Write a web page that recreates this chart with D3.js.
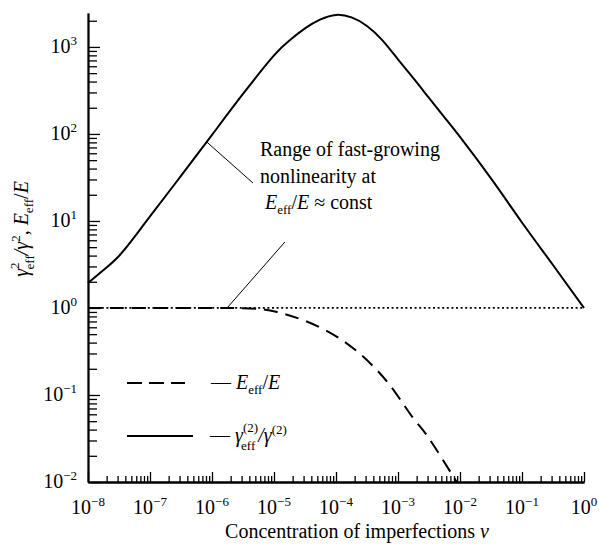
<!DOCTYPE html>
<html lang="en">
<head>
<meta charset="utf-8">
<title>Effective nonlinearity vs concentration</title>
<script src="https://cdn.jsdelivr.net/npm/d3@7"></script>
<style>
  body { margin: 0; background: #fff; }
  svg text { font-family: "Liberation Serif", "Times New Roman", Times, "Noto Serif", "DejaVu Serif", FreeSerif, serif; fill: #000; }
  .axis path { stroke: #000; stroke-width: 1.8px; }
  .axis line { stroke: #000; stroke-width: 1.3px; }
</style>
</head>
<body>
<script>
// exponents of the labelled decades
var xTickExps = [-8, -7, -6, -5, -4, -3, -2, -1, 0];
var yTickExps = [-2, -1, 0, 1, 2, 3];

// gamma_eff^(2)/gamma^(2) (solid), read every quarter/half decade
var nuGamma = [1e-8, 1.78e-8, 3.16e-8, 5.62e-8, 1e-7, 3.16e-7, 1e-6, 3.16e-6, 1e-5, 1.78e-5, 3.16e-5, 5.62e-5,
               1e-4, 1.78e-4, 3.16e-4, 5.62e-4, 1e-3, 1.78e-3, 3.16e-3, 5.62e-3, 1e-2, 3.16e-2, 0.1, 0.316, 1];
var gammaRatio = [1.94, 2.73, 3.96, 6.55, 11.3, 32.9, 97.4, 288, 798, 1190, 1633, 2070,
                  2333, 2183, 1742, 1188, 718, 434, 259, 155, 92.4, 30.8, 9.61, 3.12, 1];

// E_eff/E (dashed)
var nuE = [1e-8, 1e-7, 1e-6, 3e-6, 5.9e-6, 1.12e-5, 3.53e-5, 1.3e-4, 3.95e-4, 8.95e-4, 1.75e-3, 3.05e-3, 8.85e-3];
var eRatio = [1, 1, 1, 0.995, 0.97, 0.90, 0.69, 0.42, 0.215, 0.108, 0.0544, 0.0329, 0.01];

var w = 599, h = 547;
var FS = 20;
var svg = d3.select("body").append("svg").attr("width", w).attr("height", h);

var x = d3.scaleLog().domain([1e-8, 1]).range([88, 584]);
var y = d3.scaleLog().domain([1e-2, Math.pow(10, 3.39)]).range([482, 13]);

// minor ticks 2..9 in each decade
var xMinor = [], yMinor = [];
for (var e = -8; e < 0; e++) for (var k = 2; k < 10; k++) xMinor.push(k * Math.pow(10, e));
for (var e = -2; e < 4; e++) for (var k = 2; k < 10; k++) {
  var v = k * Math.pow(10, e);
  if (v <= y.domain()[1]) yMinor.push(v);
}
var xMajor = xTickExps.map(function(e) { return Math.pow(10, e); });
var yMajor = yTickExps.map(function(e) { return Math.pow(10, e); });

// axes with ticks pointing inside
svg.append("g").attr("class", "axis").attr("transform", "translate(0,482)")
   .call(d3.axisTop(x).tickValues(xMinor).tickSize(6).tickSizeOuter(0).tickFormat(""));
svg.append("g").attr("class", "axis").attr("transform", "translate(0,482)")
   .call(d3.axisTop(x).tickValues(xMajor).tickSize(10).tickSizeOuter(0).tickFormat(""));
svg.append("g").attr("class", "axis").attr("transform", "translate(88,0)")
   .call(d3.axisRight(y).tickValues(yMinor).tickSize(9).tickSizeOuter(0).tickFormat(""));
svg.append("g").attr("class", "axis").attr("transform", "translate(88,0)")
   .call(d3.axisRight(y).tickValues(yMajor).tickSize(12).tickSizeOuter(0).tickFormat(""));

// rich text helper: parts with sup/sub/italic
function rich(t, parts, size) {
  var shift = 0;
  t.style("font-size", size + "px");
  parts.forEach(function(p) {
    var ts = t.append("tspan").text(p.t);
    var target = p.s === "sup" ? -(p.up || 0.42) * size : (p.s === "sub" ? (p.down || 0.25) * size : 0);
    ts.attr("dy", target - shift);
    shift = target;
    if (p.s) ts.style("font-size", Math.round(size * 0.66) + "px");
    if (p.i) ts.style("font-style", "italic");
    if (p.dx) ts.attr("dx", p.dx);
  });
  return t;
}

function expLabel(e) {
  return [{t: "10"}, {t: (e < 0 ? "\u2212" + (-e) : "" + e), s: "sup"}];
}

// tick labels
xTickExps.forEach(function(e) {
  rich(svg.append("text").attr("x", x(Math.pow(10, e))).attr("y", 514)
         .attr("text-anchor", "middle"), expLabel(e), FS);
});
yTickExps.forEach(function(e) {
  rich(svg.append("text").attr("x", 77).attr("y", y(Math.pow(10, e)) + 6)
         .attr("text-anchor", "end"), expLabel(e), FS);
});

// axis titles
rich(svg.append("text").attr("x", 357).attr("y", 538).attr("text-anchor", "middle"),
     [{t: "Concentration of imperfections "}, {t: "v", i: true}], FS);

rich(svg.append("text").attr("transform", "translate(28,229) rotate(-90)")
        .attr("text-anchor", "middle"),
     [{t: "\u03b3", i: true}, {t: "2", s: "sup", up: 0.45}, {t: "eff", s: "sub", dx: -7, down: 0.32},
      {t: "/\u03b3", i: true}, {t: "2", s: "sup"}, {t: ",  "}, {t: "E", i: true},
      {t: "eff", s: "sub"}, {t: "/"}, {t: "E", i: true}], FS);

// reference line at 1
svg.append("line")
   .attr("x1", x(1e-8)).attr("x2", x(1)).attr("y1", y(1)).attr("y2", y(1))
   .style("stroke", "#000").style("stroke-width", 1.8).style("stroke-dasharray", "2,2.6");

var line = d3.line().curve(d3.curveNatural)
  .x(function(d) { return x(d[0]); }).y(function(d) { return y(d[1]); });

svg.append("path").datum(d3.zip(nuE, eRatio)).attr("d", line)
   .style("fill", "none").style("stroke", "#000").style("stroke-width", 2)
   .style("stroke-dasharray", "14,8");

svg.append("path").datum(d3.zip(nuGamma, gammaRatio)).attr("d", line)
   .style("fill", "none").style("stroke", "#000").style("stroke-width", 2);

// annotation
var pointers = [
  [[8.2e-7, 81], [4.58e-6, 27.3]],
  [[1.5e-5, 5.74], [1.75e-6, 1]]
];
pointers.forEach(function(p) {
  svg.append("line")
     .attr("x1", x(p[0][0])).attr("y1", y(p[0][1]))
     .attr("x2", x(p[1][0])).attr("y2", y(p[1][1]))
     .style("stroke", "#000").style("stroke-width", 1);
});
var ax = x(5.94e-6), ay = y(56);
rich(svg.append("text").attr("x", ax).attr("y", ay), [{t: "Range of fast-growing"}], FS);
rich(svg.append("text").attr("x", ax).attr("y", ay + 27), [{t: "nonlinearity at"}], FS);
rich(svg.append("text").attr("x", ax + 5).attr("y", ay + 53),
     [{t: "E", i: true}, {t: "eff", s: "sub"}, {t: "/"}, {t: "E", i: true}, {t: " \u2248 const"}], FS);

// legend
svg.append("line").attr("x1", 127).attr("x2", 185).attr("y1", 383).attr("y2", 383)
   .style("stroke", "#000").style("stroke-width", 2).style("stroke-dasharray", "15,7");
svg.append("line").attr("x1", 127).attr("x2", 193).attr("y1", 436).attr("y2", 436)
   .style("stroke", "#000").style("stroke-width", 2);
rich(svg.append("text").attr("x", 211).attr("y", 389),
     [{t: "\u2014 "}, {t: "E", i: true}, {t: "eff", s: "sub"}, {t: "/"}, {t: "E", i: true}], FS);
rich(svg.append("text").attr("x", 210).attr("y", 442),
     [{t: "\u2014 "}, {t: "\u03b3", i: true}, {t: "(2)", s: "sup", up: 0.5}, {t: "eff", s: "sub", dx: -17, down: 0.38},
      {t: "/\u03b3", i: true, dx: 3}, {t: "(2)", s: "sup"}], FS);
</script>
</body>
</html>
